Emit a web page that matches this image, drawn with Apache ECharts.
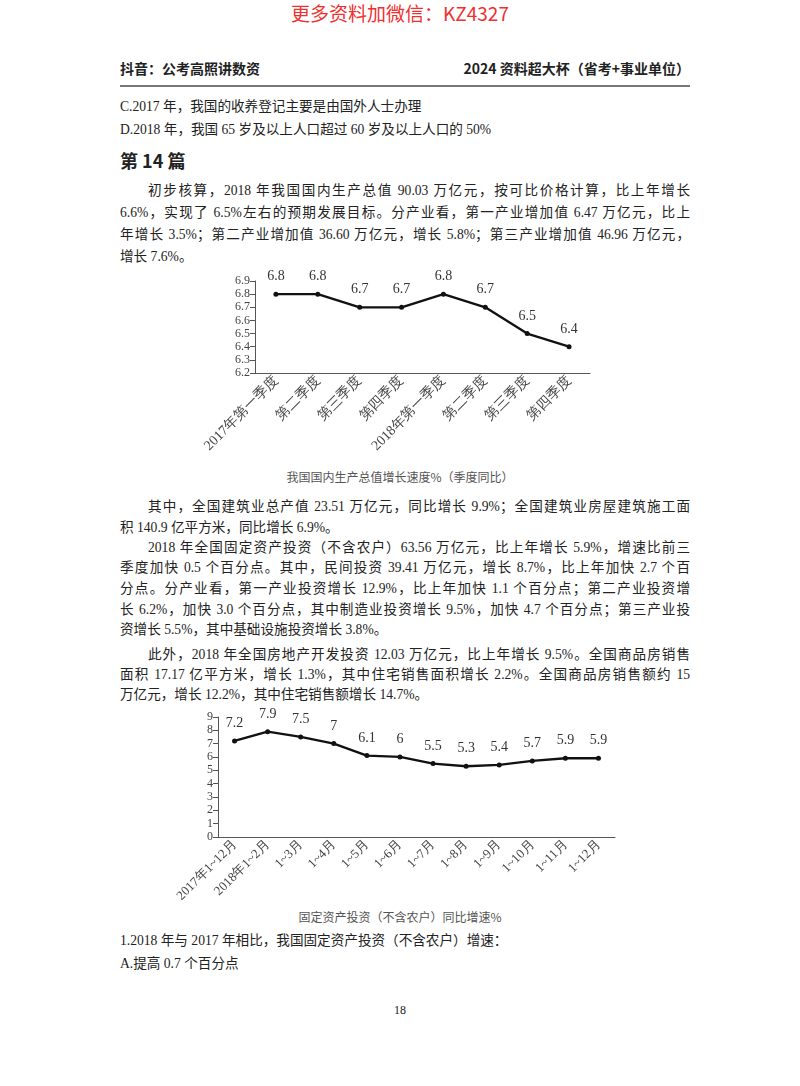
<!DOCTYPE html>
<html><head><meta charset="utf-8">
<script src="https://cdn.jsdelivr.net/npm/echarts@6/dist/echarts.min.js"></script>
<style>
body{margin:0;width:800px;height:1086px;background:#fff;position:relative;overflow:hidden;font-family:"Liberation Serif","Noto Sans CJK SC",serif;color:#222}
.t{position:absolute;left:120px;width:570px;font-size:13.6px;line-height:20px;white-space:nowrap}
.j{text-align:justify;text-align-last:justify}
.ind{text-indent:28px}
#c1{position:absolute;left:200px;top:270px;width:400px;height:195px}
#c2{position:absolute;left:170px;top:705px;width:450px;height:200px}
.cap{position:absolute;font-size:12px;color:#555;font-family:"Noto Sans CJK SC",sans-serif}
</style></head><body>
<div style="position:absolute;top:0;left:0;width:800px;text-align:center;color:#f03030;font-size:19px;line-height:26px;font-family:'Noto Sans CJK SC',sans-serif">更多资料加微信：KZ4327</div>
<div style="position:absolute;top:58px;left:120px;font-weight:bold;font-size:14px;font-family:'Noto Sans CJK SC',sans-serif">抖音：公考高照讲数资</div>
<div style="position:absolute;top:58px;right:110px;font-weight:bold;font-size:14px;font-family:'Noto Sans CJK SC',sans-serif">2024 资料超大杯（省考+事业单位）</div>
<div style="position:absolute;top:85px;left:120px;width:570px;height:2px;background:#777"></div>
<div class="t" style="top:97px">C.2017 年，我国的收养登记主要是由国外人士办理</div>
<div class="t" style="top:120px">D.2018 年，我国 65 岁及以上人口超过 60 岁及以上人口的 50%</div>
<div class="t" style="top:148px;font-size:18px;font-weight:bold;line-height:24px;font-family:'Noto Sans CJK SC',sans-serif">第 14 篇</div>
<div class="t j ind" style="top:181px">初步核算，2018 年我国国内生产总值 90.03 万亿元，按可比价格计算，比上年增长</div>
<div class="t j" style="top:203px">6.6%，实现了 6.5%左右的预期发展目标。分产业看，第一产业增加值 6.47 万亿元，比上</div>
<div class="t j" style="top:225px">年增长 3.5%；第二产业增加值 36.60 万亿元，增长 5.8%；第三产业增加值 46.96 万亿元，</div>
<div class="t" style="top:247px">增长 7.6%。</div>
<div id="c1"></div>
<div class="cap" style="top:468px;left:0;width:800px;text-align:center">我国国内生产总值增长速度%（季度同比）</div>
<div class="t j ind" style="top:497px">其中，全国建筑业总产值 23.51 万亿元，同比增长 9.9%；全国建筑业房屋建筑施工面</div>
<div class="t" style="top:518px">积 140.9 亿平方米，同比增长 6.9%。</div>
<div class="t j ind" style="top:538px">2018 年全国固定资产投资（不含农户）63.56 万亿元，比上年增长 5.9%，增速比前三</div>
<div class="t j" style="top:558px">季度加快 0.5 个百分点。其中，民间投资 39.41 万亿元，增长 8.7%，比上年加快 2.7 个百</div>
<div class="t j" style="top:579px">分点。分产业看，第一产业投资增长 12.9%，比上年加快 1.1 个百分点；第二产业投资增</div>
<div class="t j" style="top:600px">长 6.2%，加快 3.0 个百分点，其中制造业投资增长 9.5%，加快 4.7 个百分点；第三产业投</div>
<div class="t" style="top:620px">资增长 5.5%，其中基础设施投资增长 3.8%。</div>
<div class="t j ind" style="top:645px">此外，2018 年全国房地产开发投资 12.03 万亿元，比上年增长 9.5%。全国商品房销售</div>
<div class="t j" style="top:665px">面积 17.17 亿平方米，增长 1.3%，其中住宅销售面积增长 2.2%。全国商品房销售额约 15</div>
<div class="t" style="top:685px">万亿元，增长 12.2%，其中住宅销售额增长 14.7%。</div>
<div id="c2"></div>
<div class="cap" style="top:908px;left:0;width:800px;text-align:center">固定资产投资（不含农户）同比增速%</div>
<div class="t" style="top:931px">1.2018 年与 2017 年相比，我国固定资产投资（不含农户）增速：</div>
<div class="t" style="top:954px">A.提高 0.7 个百分点</div>
<div style="position:absolute;top:1003px;left:0;width:800px;text-align:center;font-size:12px">18</div>
<script>
const gdpCategories=['2017年第一季度','第二季度','第三季度','第四季度','2018年第一季度','第二季度','第三季度','第四季度'];
const gdpValues=[6.8,6.8,6.7,6.7,6.8,6.7,6.5,6.4];
const fiCategories=['2017年1~12月','2018年1~2月','1~3月','1~4月','1~5月','1~6月','1~7月','1~8月','1~9月','1~10月','1~11月','1~12月'];
const fiValues=[7.2,7.9,7.5,7,6.1,6,5.5,5.3,5.4,5.7,5.9,5.9];
const F='Liberation Serif';
function mk(el,cats,vals,grid,y,fmt,xs,ys){
  echarts.init(document.getElementById(el)).setOption({
    animation:false,grid:grid,
    xAxis:{type:'category',data:cats,axisLine:{lineStyle:{color:'#555'}},axisTick:{lineStyle:{color:'#555'}},
      axisLabel:{rotate:45,color:'#444',fontFamily:F,fontSize:xs,interval:0,margin:6}},
    yAxis:Object.assign({type:'value',splitLine:{show:false},axisLine:{show:true,lineStyle:{color:'#555'}},axisTick:{show:true,lineStyle:{color:'#555'}},
      axisLabel:{color:'#444',fontFamily:F,fontSize:ys,margin:5,formatter:fmt,hideOverlap:false,showMinLabel:true,showMaxLabel:true}},y),
    series:[{type:'line',data:vals,symbol:'circle',symbolSize:5,itemStyle:{color:'#111'},lineStyle:{color:'#111',width:2.3},
      label:{show:true,position:'top',distance:8,color:'#333',fontFamily:F,fontSize:14}}]
  });
}
mk('c1',gdpCategories,gdpValues,{left:48,right:10,top:11,bottom:92},{min:6.2,max:6.9,interval:0.1},v=>v.toFixed(1),14,12);
mk('c2',fiCategories,fiValues,{left:48,right:5,top:12,bottom:65},{min:0,max:9,interval:1},v=>v,13,12);
</script>
</body></html>
